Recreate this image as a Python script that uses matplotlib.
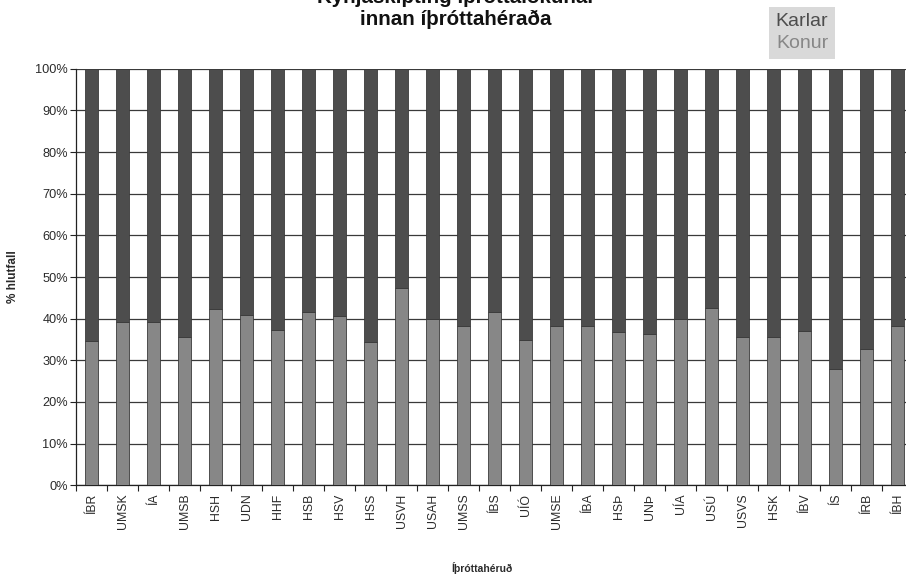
import matplotlib
matplotlib.use("Agg")
import matplotlib.pyplot as plt
import numpy as np
from matplotlib.ticker import FixedLocator, PercentFormatter

plt.rcParams['font.family'] = ['Liberation Sans', 'DejaVu Sans']

# Sports districts and the share of female participants (%)
districts = ["ÍBR", "UMSK", "ÍA", "UMSB", "HSH", "UDN", "HHF", "HSB", "HSV", "HSS",
             "USVH", "USAH", "UMSS", "ÍBS", "UÍÓ", "UMSE", "ÍBA", "HSÞ", "UNÞ", "UÍA",
             "USÚ", "USVS", "HSK", "ÍBV", "ÍS", "ÍRB", "ÍBH"]
konur = [34.7, 39.3, 39.3, 35.5, 42.3, 41.0, 37.3, 41.6, 40.7, 34.3,
         47.3, 39.9, 38.3, 41.6, 34.8, 38.3, 38.3, 36.7, 36.3, 39.9,
         42.6, 35.5, 35.5, 37.0, 27.9, 32.7, 38.3]
karlar = [100 - v for v in konur]

yticks = [0, 10, 20, 30, 40, 50, 60, 70, 80, 90, 100]

col_konur = "#878787"
col_karlar = "#4d4d4d"
col_text = "#2a2a2a"

fig = plt.figure(figsize=(9.06, 5.88), dpi=100)
ax = fig.add_axes([0.0842, 0.1747, 0.9238, 0.7082])

x = np.arange(len(districts))
ax.bar(x, konur, width=0.42, color=col_konur, edgecolor="#3a3a3a", linewidth=0.6, zorder=3)
ax.bar(x, karlar, width=0.42, bottom=konur, color=col_karlar, edgecolor="#3a3a3a",
       linewidth=0.6, zorder=3)

ax.set_xlim(-0.5, len(districts) - 0.5)
ax.set_ylim(0, 100)

ax.set_yticks(yticks)
ax.yaxis.set_major_formatter(PercentFormatter(decimals=0))
ax.tick_params(axis="y", length=4, width=0.8, color="#222222", labelsize=9.2,
               pad=2, labelcolor=col_text)
ax.grid(axis="y", color="#3a3a3a", linewidth=0.9, zorder=1)

ax.set_xticks(x)
ax.set_xticklabels(districts, rotation=90, fontsize=8.8, color=col_text)
ax.tick_params(axis="x", which="major", length=0, pad=6)
ax.xaxis.set_minor_locator(FixedLocator(np.arange(len(districts) + 1) - 0.5))
ax.tick_params(axis="x", which="minor", length=4, width=0.8, color="#222222")

for side in ("top", "right"):
    ax.spines[side].set_visible(False)
for side in ("left", "bottom"):
    ax.spines[side].set_color("#222222")
    ax.spines[side].set_linewidth(0.9)

fig.text(13 / 906, 1 - 277 / 588, "% hlutfall", rotation=90, ha="center", va="center",
         fontsize=8.5, fontweight="bold", color=col_text)
fig.text(0.532, 0.034, "Íþróttahéruð", ha="center", va="center", fontsize=7.5,
         fontweight="bold", color=col_text)

# Title (two lines, the first sits at the very top edge)
fig.text(0.503, 1 - 3 / 588, "Kynjaskipting íþróttaiðkunar", ha="center", va="baseline",
         fontsize=14.8, fontweight="bold", color="#111111")
fig.text(0.503, 1 - 25 / 588, "innan íþróttahéraða", ha="center", va="baseline",
         fontsize=14.8, fontweight="bold", color="#111111")

# Legend box
lx0, lx1 = 769 / 906, 835 / 906
ly0, ly1 = 1 - 59 / 588, 1 - 7 / 588
fig.patches.append(plt.Rectangle((lx0, ly0), lx1 - lx0, ly1 - ly0, transform=fig.transFigure,
                                 facecolor="#d9d9d9", edgecolor="none"))
fig.text((lx0 + lx1) / 2, 1 - 21 / 588, "Karlar", ha="center", va="center",
         fontsize=14, color=col_karlar)
fig.text((lx0 + lx1) / 2, 1 - 44 / 588, "Konur", ha="center", va="center",
         fontsize=14, color=col_konur)

fig.savefig("out.png", dpi=100)
